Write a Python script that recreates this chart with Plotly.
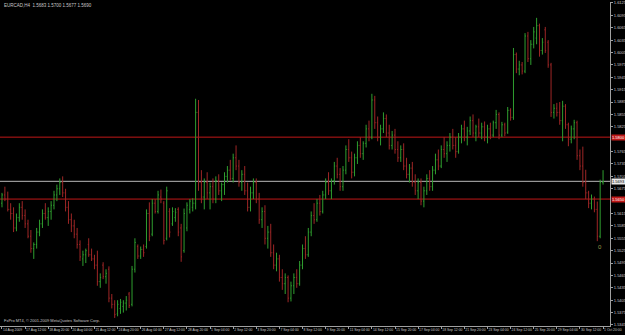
import plotly.graph_objects as go

header_text = "EURCAD,H4  1.5683 1.5700 1.5677 1.5690"
copyright_text = "FxPro MT4, \u00a9 2001-2009 MetaQuotes Software Corp."

time_labels = ["14 Aug 2009", "17 Aug 12:00", "18 Aug 20:00", "20 Aug 04:00", "21 Aug 12:00",
               "24 Aug 20:00", "26 Aug 04:00", "27 Aug 12:00", "28 Aug 20:00", "1 Sep 04:00",
               "2 Sep 12:00", "3 Sep 20:00", "7 Sep 04:00", "8 Sep 12:00", "9 Sep 20:00",
               "11 Sep 04:00", "14 Sep 12:00", "15 Sep 20:00", "17 Sep 04:00", "18 Sep 12:00",
               "21 Sep 20:00", "23 Sep 04:00", "24 Sep 12:00", "25 Sep 20:00", "29 Sep 04:00",
               "30 Sep 12:00", "1 Oct 20:00"]

price_ticks = [1.6125, 1.6095, 1.6065, 1.6035, 1.6005, 1.5975, 1.5945, 1.5915, 1.5885,
               1.5855, 1.5825, 1.5795, 1.5765, 1.5735, 1.5705, 1.5675, 1.5645, 1.5615,
               1.5585, 1.5555, 1.5525, 1.5495, 1.5465, 1.5435, 1.5405, 1.5375, 1.5345]

opens = [1.5640, 1.5660, 1.5650, 1.5625, 1.5615, 1.5580, 1.5605, 1.5630, 1.5610, 1.5590,
         1.5560, 1.5530, 1.5540, 1.5570, 1.5590, 1.5615, 1.5605, 1.5620, 1.5635, 1.5660,
         1.5675, 1.5690, 1.5665, 1.5630, 1.5600, 1.5585, 1.5565, 1.5540, 1.5505, 1.5515,
         1.5540, 1.5515, 1.5505, 1.5490, 1.5450, 1.5490, 1.5462, 1.5480, 1.5410, 1.5395,
         1.5372, 1.5385, 1.5390, 1.5398, 1.5420, 1.5395, 1.5480, 1.5535, 1.5512, 1.5528,
         1.5535, 1.5615, 1.5565, 1.5640, 1.5620, 1.5655, 1.5640, 1.5555, 1.5620, 1.5590,
         1.5605, 1.5625, 1.5580, 1.5525, 1.5580, 1.5625, 1.5630, 1.5640, 1.5860, 1.5690,
         1.5655, 1.5690, 1.5665, 1.5680, 1.5650, 1.5695, 1.5670, 1.5685, 1.5705, 1.5720,
         1.5700, 1.5750, 1.5730, 1.5690, 1.5710, 1.5670, 1.5630, 1.5665, 1.5690, 1.5650,
         1.5600, 1.5620, 1.5555, 1.5570, 1.5520, 1.5490, 1.5505, 1.5460, 1.5445, 1.5460,
         1.5410, 1.5440, 1.5460, 1.5445, 1.5490, 1.5530, 1.5515, 1.5570, 1.5610, 1.5600,
         1.5640, 1.5620, 1.5660, 1.5690, 1.5670, 1.5695, 1.5730, 1.5710, 1.5680, 1.5720,
         1.5770, 1.5750, 1.5715, 1.5750, 1.5780, 1.5760, 1.5785, 1.5820, 1.5800, 1.5890,
         1.5835, 1.5800, 1.5820, 1.5845, 1.5810, 1.5780, 1.5805, 1.5770, 1.5750, 1.5770,
         1.5730, 1.5710, 1.5725, 1.5690, 1.5670, 1.5690, 1.5645, 1.5670, 1.5700, 1.5680,
         1.5720, 1.5745, 1.5730, 1.5770, 1.5760, 1.5780, 1.5800, 1.5780, 1.5765, 1.5800,
         1.5820, 1.5800, 1.5815, 1.5840, 1.5810, 1.5825, 1.5810, 1.5825, 1.5800, 1.5820,
         1.5805, 1.5835, 1.5855, 1.5805, 1.5830, 1.5812, 1.5865, 1.5848, 1.6000, 1.5965,
         1.5975, 1.5960, 1.6045, 1.5990, 1.6025, 1.6040, 1.6070, 1.6010, 1.6060, 1.6030,
         1.5975, 1.5860, 1.5870, 1.5860, 1.5840, 1.5875, 1.5830, 1.5795, 1.5820, 1.5835,
         1.5755, 1.5730, 1.5690, 1.5665, 1.5640, 1.5650, 1.5625, 1.5560, 1.5690]

highs = [1.5665, 1.5680, 1.5668, 1.5640, 1.5630, 1.5615, 1.5640, 1.5645, 1.5625, 1.5600,
         1.5575, 1.5545, 1.5580, 1.5600, 1.5625, 1.5640, 1.5630, 1.5645, 1.5670, 1.5685,
         1.5700, 1.5705, 1.5675, 1.5645, 1.5615, 1.5600, 1.5580, 1.5550, 1.5525, 1.5530,
         1.5555, 1.5530, 1.5515, 1.5525, 1.5470, 1.5497, 1.5480, 1.5487, 1.5420, 1.5405,
         1.5405, 1.5408, 1.5405, 1.5415, 1.5425, 1.5488, 1.5555, 1.5540, 1.5535, 1.5540,
         1.5625, 1.5642, 1.5650, 1.5650, 1.5670, 1.5673, 1.5645, 1.5680, 1.5628, 1.5630,
         1.5628, 1.5630, 1.5590, 1.5627, 1.5642, 1.5650, 1.5652, 1.5893, 1.5890, 1.5720,
         1.5700, 1.5715, 1.5690, 1.5700, 1.5705, 1.5710, 1.5690, 1.5715, 1.5730, 1.5745,
         1.5760, 1.5780, 1.5745, 1.5720, 1.5730, 1.5690, 1.5680, 1.5700, 1.5700, 1.5665,
         1.5630, 1.5635, 1.5585, 1.5590, 1.5540, 1.5520, 1.5515, 1.5480, 1.5470, 1.5465,
         1.5450, 1.5470, 1.5480, 1.5500, 1.5540, 1.5560, 1.5580, 1.5620, 1.5640, 1.5650,
         1.5660, 1.5670, 1.5700, 1.5715, 1.5700, 1.5740, 1.5750, 1.5725, 1.5730, 1.5780,
         1.5795, 1.5765, 1.5760, 1.5790, 1.5800, 1.5790, 1.5830, 1.5840, 1.5905, 1.5900,
         1.5850, 1.5830, 1.5860, 1.5855, 1.5830, 1.5815, 1.5820, 1.5790, 1.5780, 1.5785,
         1.5750, 1.5735, 1.5740, 1.5710, 1.5700, 1.5700, 1.5680, 1.5710, 1.5720, 1.5730,
         1.5760, 1.5770, 1.5780, 1.5800, 1.5790, 1.5810, 1.5820, 1.5800, 1.5810, 1.5830,
         1.5840, 1.5825, 1.5850, 1.5855, 1.5830, 1.5845, 1.5835, 1.5838, 1.5830, 1.5835,
         1.5840, 1.5866, 1.5860, 1.5837, 1.5835, 1.5873, 1.5870, 1.6016, 1.6005, 1.5985,
         1.5982, 1.6052, 1.6055, 1.6035, 1.6067, 1.6089, 1.6075, 1.6040, 1.6067, 1.6035,
         1.5980, 1.5880, 1.5883, 1.5885, 1.5888, 1.5880, 1.5835, 1.5828, 1.5842, 1.5840,
         1.5770, 1.5777, 1.5721, 1.5670, 1.5661, 1.5656, 1.5644, 1.5697, 1.5720]

lows = [1.5630, 1.5645, 1.5620, 1.5600, 1.5570, 1.5572, 1.5595, 1.5600, 1.5580, 1.5555,
        1.5520, 1.5505, 1.5530, 1.5560, 1.5580, 1.5600, 1.5585, 1.5600, 1.5625, 1.5645,
        1.5660, 1.5655, 1.5620, 1.5590, 1.5570, 1.5555, 1.5530, 1.5500, 1.5488, 1.5495,
        1.5510, 1.5500, 1.5480, 1.5440, 1.5435, 1.5456, 1.5445, 1.5400, 1.5385, 1.5362,
        1.5366, 1.5372, 1.5375, 1.5380, 1.5386, 1.5390, 1.5472, 1.5505, 1.5505, 1.5510,
        1.5530, 1.5548, 1.5560, 1.5615, 1.5615, 1.5640, 1.5540, 1.5550, 1.5557, 1.5585,
        1.5595, 1.5560, 1.5498, 1.5520, 1.5572, 1.5615, 1.5620, 1.5625, 1.5670, 1.5640,
        1.5625, 1.5650, 1.5625, 1.5640, 1.5640, 1.5660, 1.5645, 1.5660, 1.5690, 1.5695,
        1.5690, 1.5720, 1.5680, 1.5670, 1.5660, 1.5620, 1.5620, 1.5650, 1.5640, 1.5590,
        1.5580, 1.5540, 1.5530, 1.5510, 1.5480, 1.5475, 1.5450, 1.5430, 1.5420, 1.5400,
        1.5402, 1.5420, 1.5435, 1.5440, 1.5480, 1.5505, 1.5510, 1.5560, 1.5590, 1.5595,
        1.5610, 1.5615, 1.5650, 1.5660, 1.5650, 1.5685, 1.5700, 1.5670, 1.5670, 1.5710,
        1.5740, 1.5700, 1.5705, 1.5735, 1.5750, 1.5745, 1.5775, 1.5790, 1.5795, 1.5820,
        1.5790, 1.5780, 1.5810, 1.5800, 1.5770, 1.5770, 1.5760, 1.5740, 1.5740, 1.5720,
        1.5700, 1.5690, 1.5680, 1.5660, 1.5650, 1.5635, 1.5630, 1.5660, 1.5670, 1.5670,
        1.5710, 1.5720, 1.5725, 1.5750, 1.5740, 1.5765, 1.5770, 1.5750, 1.5760, 1.5785,
        1.5790, 1.5780, 1.5805, 1.5800, 1.5790, 1.5800, 1.5795, 1.5790, 1.5785, 1.5795,
        1.5800, 1.5820, 1.5795, 1.5800, 1.5802, 1.5808, 1.5840, 1.5842, 1.5955, 1.5950,
        1.5952, 1.5955, 1.5982, 1.5975, 1.6015, 1.6025, 1.5995, 1.6000, 1.6004, 1.5968,
        1.5849, 1.5845, 1.5850, 1.5830, 1.5790, 1.5820, 1.5778, 1.5785, 1.5795, 1.5745,
        1.5720, 1.5680, 1.5650, 1.5628, 1.5625, 1.5618, 1.5548, 1.5555, 1.5685]

closes = [1.5660, 1.5650, 1.5625, 1.5615, 1.5580, 1.5605, 1.5630, 1.5610, 1.5590, 1.5560,
          1.5530, 1.5540, 1.5570, 1.5590, 1.5615, 1.5605, 1.5620, 1.5635, 1.5660, 1.5675,
          1.5690, 1.5665, 1.5630, 1.5600, 1.5585, 1.5565, 1.5540, 1.5510, 1.5515, 1.5525,
          1.5515, 1.5505, 1.5490, 1.5450, 1.5460, 1.5462, 1.5470, 1.5410, 1.5395, 1.5370,
          1.5395, 1.5400, 1.5398, 1.5405, 1.5392, 1.5480, 1.5545, 1.5512, 1.5528, 1.5520,
          1.5615, 1.5560, 1.5640, 1.5620, 1.5660, 1.5650, 1.5550, 1.5670, 1.5570, 1.5620,
          1.5618, 1.5570, 1.5510, 1.5615, 1.5635, 1.5645, 1.5640, 1.5860, 1.5690, 1.5655,
          1.5690, 1.5665, 1.5680, 1.5650, 1.5695, 1.5670, 1.5685, 1.5705, 1.5720, 1.5700,
          1.5750, 1.5730, 1.5690, 1.5710, 1.5670, 1.5630, 1.5665, 1.5690, 1.5650, 1.5600,
          1.5620, 1.5555, 1.5570, 1.5520, 1.5490, 1.5505, 1.5460, 1.5445, 1.5460, 1.5410,
          1.5440, 1.5460, 1.5445, 1.5490, 1.5530, 1.5515, 1.5570, 1.5610, 1.5600, 1.5640,
          1.5620, 1.5660, 1.5690, 1.5670, 1.5695, 1.5730, 1.5710, 1.5680, 1.5720, 1.5770,
          1.5750, 1.5715, 1.5750, 1.5780, 1.5760, 1.5785, 1.5820, 1.5800, 1.5890, 1.5835,
          1.5800, 1.5820, 1.5845, 1.5810, 1.5780, 1.5805, 1.5770, 1.5750, 1.5770, 1.5730,
          1.5710, 1.5725, 1.5690, 1.5670, 1.5690, 1.5645, 1.5670, 1.5700, 1.5680, 1.5720,
          1.5745, 1.5730, 1.5770, 1.5760, 1.5780, 1.5800, 1.5780, 1.5765, 1.5800, 1.5820,
          1.5800, 1.5815, 1.5840, 1.5810, 1.5825, 1.5810, 1.5825, 1.5800, 1.5820, 1.5805,
          1.5835, 1.5855, 1.5805, 1.5830, 1.5810, 1.5865, 1.5848, 1.6000, 1.5965, 1.5975,
          1.5960, 1.6045, 1.5990, 1.6025, 1.6055, 1.6070, 1.6010, 1.6030, 1.6010, 1.5975,
          1.5860, 1.5870, 1.5860, 1.5840, 1.5875, 1.5830, 1.5795, 1.5820, 1.5835, 1.5755,
          1.5730, 1.5690, 1.5665, 1.5640, 1.5650, 1.5625, 1.5560, 1.5690, 1.5693]

red_levels = [1.5800, 1.5650]
current_price = 1.5693
marker_text = "0"
marker_bar = 207
marker_price = 1.5533

UP = "#2f9e2f"
DOWN = "#9e2626"
AXIS = "#a0a0a0"
TEXT = "#c8c8c8"
FONT = "Liberation Sans"

bars = list(range(len(closes)))
label_bars = bars[::8]

# price labels hidden behind the level boxes (as in the terminal)
box_levels = red_levels + [current_price]
shown_ticks = [p for p in price_ticks if all(abs(p - b) > 0.0011 for b in box_levels)]

fig = go.Figure(go.Ohlc(
    x=bars, open=opens, high=highs, low=lows, close=closes,
    increasing=dict(line=dict(color=UP, width=1)),
    decreasing=dict(line=dict(color=DOWN, width=1)),
    tickwidth=0.3, hoverinfo="skip", showlegend=False,
))

for lv in red_levels:
    fig.add_shape(type="line", xref="paper", x0=0, x1=1, yref="y", y0=lv, y1=lv,
                  line=dict(color="#c01818", width=1), layer="below")
    fig.add_annotation(xref="paper", x=1, yref="y", y=lv, text=f"{lv:.4f}",
                       showarrow=False, xanchor="left", yanchor="middle", xshift=1,
                       bgcolor="#c01818", borderpad=0,
                       font=dict(family=FONT, size=4, color="#ffffff"))

fig.add_shape(type="line", xref="paper", x0=0, x1=1, yref="y", y0=current_price, y1=current_price,
              line=dict(color="#b8b8b8", width=1), layer="below")
fig.add_annotation(xref="paper", x=1, yref="y", y=current_price, text=f"{current_price:.4f}",
                   showarrow=False, xanchor="left", yanchor="middle", xshift=1,
                   bgcolor="#e8e8e8", borderpad=0,
                   font=dict(family=FONT, size=4, color="#000000"))

fig.add_annotation(x=marker_bar, y=marker_price, text=marker_text, showarrow=False,
                   font=dict(family=FONT, size=6, color="#9a9a48"))

fig.add_annotation(xref="paper", yref="paper", x=0, y=1, xanchor="left", yanchor="top",
                   xshift=2, yshift=1, text=header_text, showarrow=False,
                   font=dict(family=FONT, size=4.5, color=TEXT))
fig.add_annotation(xref="paper", yref="paper", x=0, y=0, xanchor="left", yanchor="bottom",
                   xshift=2, yshift=1, text=copyright_text, showarrow=False,
                   font=dict(family=FONT, size=4, color=TEXT))

fig.update_layout(
    width=625, height=335,
    margin=dict(l=0, r=15, t=2, b=9, autoexpand=False),
    paper_bgcolor="#000000", plot_bgcolor="#000000",
    showlegend=False,
    xaxis=dict(range=[-0.69, 210.4], showgrid=False, zeroline=False,
               showline=True, linecolor=AXIS, linewidth=1,
               ticks="outside", ticklen=2, tickcolor=AXIS,
               tickvals=label_bars, ticktext=time_labels, tickangle=0,
               ticklabelposition="outside right", ticklabelstandoff=0,
               ticklabeloverflow="allow",
               tickfont=dict(family=FONT, size=3.4, color=TEXT),
               rangeslider=dict(visible=False), fixedrange=True),
    yaxis=dict(range=[1.53425, 1.61274], side="right", showgrid=False, zeroline=False,
               showline=True, linecolor=AXIS, linewidth=1,
               ticks="outside", ticklen=2, tickcolor=AXIS,
               tickvals=shown_ticks, ticktext=[f"{p:.4f}" for p in shown_ticks],
               tickfont=dict(family=FONT, size=4, color=TEXT), fixedrange=True),
)

fig.write_html("out.html")
